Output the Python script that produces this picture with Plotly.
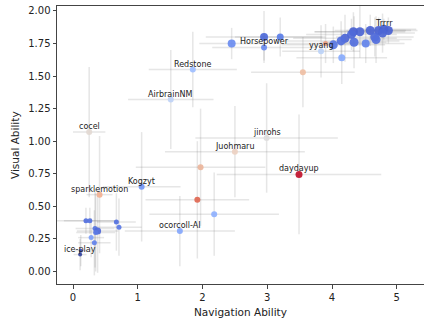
import plotly.graph_objects as go

# ---- data ----
labels = ["", "", "Trrrr", "", "", "", "", "", "", "", "", "", "", "", "",
          "", "", "Horsepower", "",
          "", "yyang", "", "",
          "Redstone", "AirbrainNM", "cocel", "jinrohs", "Juohmaru", "", "daydayup",
          "", "", "ocorcoll-AI", "Kogzyt", "sparklemotion",
          "", "", "", "", "", "", "", "", "", "ice-play", ""]
nav = [4.59, 4.72, 4.80, 4.87, 4.78, 4.66, 4.68, 4.43, 4.33, 4.30, 4.34, 4.20, 4.14, 4.02, 4.52,
       2.95, 3.20, 2.95, 2.45,
       3.90, 3.83, 4.15, 3.55,
       1.85, 1.51, 0.25, 2.99, 2.50, 1.97, 3.49,
       1.92, 2.18, 1.65, 1.06, 0.41,
       0.20, 0.26, 0.67, 0.71, 0.34, 0.38, 0.35, 0.28, 0.33, 0.11, 0.12]
vis = [1.85, 1.85, 1.86, 1.85, 1.83, 1.80, 1.78, 1.84, 1.84, 1.82, 1.76, 1.79, 1.77, 1.74, 1.75,
       1.80, 1.80, 1.72, 1.75,
       1.75, 1.69, 1.64, 1.53,
       1.55, 1.32, 1.07, 1.025, 0.92, 0.80, 0.745,
       0.55, 0.44, 0.31, 0.65, 0.59,
       0.39, 0.39, 0.38, 0.34, 0.33, 0.31, 0.30, 0.26, 0.22, 0.13, 0.16]
nav_err = [0.55, 0.5, 0.5, 0.45, 0.5, 0.6, 0.55, 0.7, 0.6, 0.7, 0.5, 0.8, 0.9, 0.8, 0.6,
           0.9, 0.7, 0.8, 0.5,
           0.6, 0.6, 0.7, 0.8,
           0.68, 0.66, 0.25, 1.1, 1.08, 1.0, 1.27,
           0.8, 1.0, 0.85, 0.6, 0.2,
           0.5, 0.4, 0.3, 0.35, 0.3, 0.32, 0.3, 0.2, 0.25, 0.1, 0.1]
vis_err = [0.12, 0.1, 0.08, 0.1, 0.15, 0.15, 0.18, 0.2, 0.15, 0.12, 0.2, 0.18, 0.15, 0.14, 0.15,
           0.2, 0.15, 0.1, 0.12,
           0.15, 0.2, 0.2, 0.27,
           0.29, 0.38, 0.5, 0.42, 0.35, 0.45, 0.46,
           0.45, 0.32, 0.27, 0.42, 0.45,
           0.1, 0.1, 0.22, 0.22, 0.3, 0.32, 0.3, 0.15, 0.25, 0.12, 0.12]
colors = ["#4a62d2", "#4a62d2", "#4660cf", "#4a62d2", "#4d66d5", "#4f69d8", "#5570dd", "#4d66d5",
          "#4a62d2", "#4f69d8", "#5470de", "#4d66d5", "#5470de", "#5a78e3", "#6384eb",
          "#4e6ad8", "#5b7ee8", "#6a8cf0", "#6a8cf0",
          "#e79b7e", "#bcd2f7", "#88abfd", "#efbfa4",
          "#9ebeff", "#bfd3f6", "#e3d9d3", "#dddcdc", "#edd1c2", "#ebb59b", "#c0112b",
          "#e06852", "#8fb1fe", "#84a7fc", "#7396f5", "#f2b193",
          "#5470de", "#5673e0", "#5572df", "#5b7ae5", "#5675df", "#4f69d9", "#5a78e4",
          "#7da0f9", "#6282ea", "#34449c", "#3b4cc0"]
sizes = [9, 9, 9, 9, 9, 9, 9, 9, 9, 9, 9, 9, 9, 9, 8,
         8, 7, 6, 8,
         5, 6, 7, 6,
         6, 6, 6, 6, 6, 6, 7,
         6, 6, 6, 6, 6,
         5, 5, 5, 5, 5, 7, 5, 5, 5, 4, 4]

x_ticks = [0, 1, 2, 3, 4, 5]
y_ticks = [0.0, 0.25, 0.5, 0.75, 1.0, 1.25, 1.5, 1.75, 2.0]

err_col = "rgba(120,120,120,0.19)"
font_main = "DejaVu Sans"

fig = go.Figure()
fig.add_trace(go.Scatter(
    x=nav, y=vis, mode="markers",
    marker=dict(color=colors, size=sizes, opacity=0.92, line=dict(width=0)),
    error_x=dict(type="data", array=nav_err, symmetric=True, color=err_col, thickness=1.5, width=0),
    error_y=dict(type="data", array=vis_err, symmetric=True, color=err_col, thickness=1.5, width=0),
    hoverinfo="skip", showlegend=False,
))

annotations = []
for lab, xv, yv in zip(labels, nav, vis):
    if lab:
        annotations.append(dict(x=xv, y=yv, text=lab, showarrow=False, xanchor="center",
                                yanchor="bottom", yshift=-1,
                                font=dict(family=font_main, size=8, color="#222")))

# axis titles as annotations (fixed pixel placement)
annotations.append(dict(xref="paper", yref="paper", x=0.5, y=0, yshift=-28, text="Navigation Ability",
                        showarrow=False, xanchor="center", yanchor="middle",
                        font=dict(family=font_main, size=10.5, color="#222")))
annotations.append(dict(xref="paper", yref="paper", x=0, y=0.5, xshift=-42, text="Visual Ability",
                        showarrow=False, xanchor="center", yanchor="middle", textangle=-90,
                        font=dict(family=font_main, size=10.5, color="#222")))

axis_common = dict(showgrid=False, zeroline=False, showline=True, linecolor="#444", linewidth=1,
                   mirror=True, ticks="outside", ticklen=3.5, tickwidth=1, tickcolor="#444",
                   automargin=False,
                   tickfont=dict(family=font_main, size=10, color="#222"))

fig.update_layout(
    width=424, height=321,
    margin=dict(l=57, r=0, t=6, b=37, autoexpand=False),
    paper_bgcolor="white", plot_bgcolor="white",
    xaxis=dict(range=[-0.247, 5.42], tickvals=x_ticks, ticktext=[str(t) for t in x_ticks],
               **axis_common),
    yaxis=dict(range=[-0.096, 2.038], tickvals=y_ticks, ticktext=[f"{t:.2f}" for t in y_ticks],
               **axis_common),
    annotations=annotations,
)

fig.write_html("out.html", config={"displayModeBar": False, "staticPlot": True},
               post_script="document.body.style.margin='0';document.body.style.overflow='hidden';")
